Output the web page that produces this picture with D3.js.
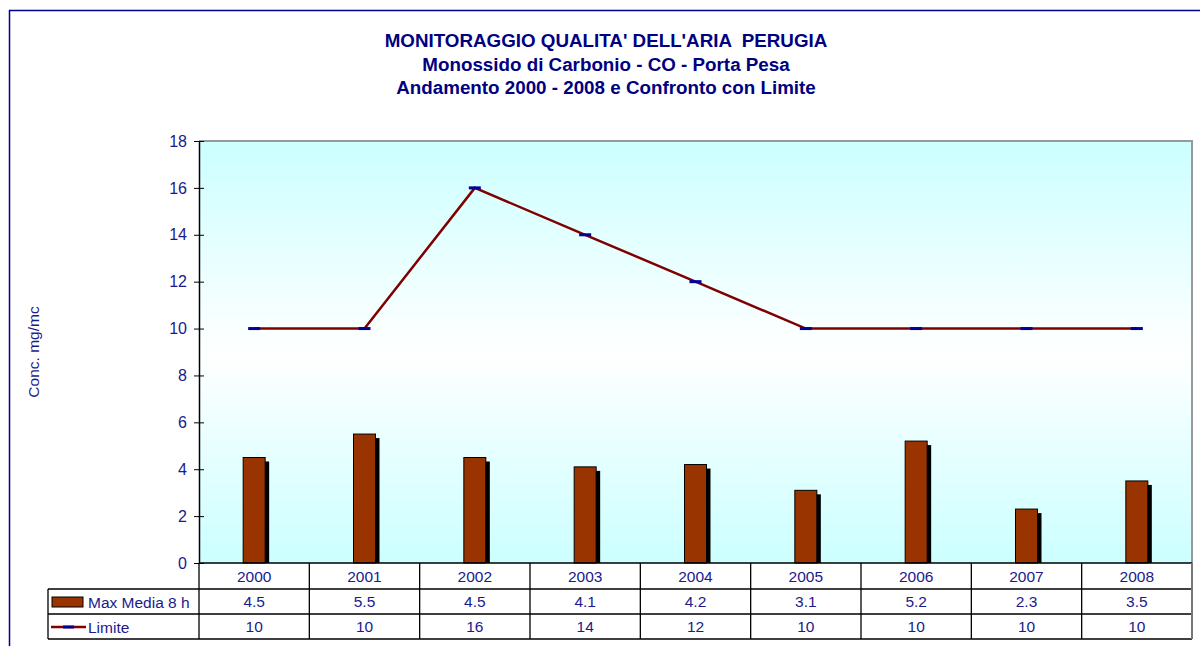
<!DOCTYPE html>
<html>
<head>
<meta charset="utf-8">
<script src="https://cdn.jsdelivr.net/npm/d3@7"></script>
<style>
  body { margin: 0; background: #fff; }
  svg { display: block; font-family: Arial, "Liberation Sans", sans-serif; }
</style>
</head>
<body>
<div id="canvas"></div>
<script>
const years = ["2000", "2001", "2002", "2003", "2004", "2005", "2006", "2007", "2008"];
const maxMedia = [4.5, 5.5, 4.5, 4.1, 4.2, 3.1, 5.2, 2.3, 3.5];
const limite = [10, 10, 16, 14, 12, 10, 10, 10, 10];
const yTicks = [0, 2, 4, 6, 8, 10, 12, 14, 16, 18];
const titleLines = [
  "MONITORAGGIO QUALITA' DELL'ARIA  PERUGIA",
  "Monossido di Carbonio - CO - Porta Pesa",
  "Andamento 2000 - 2008 e Confronto con Limite"
];

const width = 1200;
const height = 646;
const navy = "#1a1a8c";
const fontFam = "Arial, 'Liberation Sans', sans-serif";

const plotLeft = 199, plotRight = 1192, plotTop = 141, plotBottom = 563;
const rowH = [26, 25, 25];

const xScale = d3.scaleBand(years, [plotLeft, plotRight]);
const yScale = d3.scaleLinear([0, 18], [plotBottom, plotTop]);

const svg = d3
  .select("#canvas")
  .append("svg")
  .attr("width", width)
  .attr("height", height);

// outer chart frame
svg.append("path")
  .attr("d", `M9.5,${height} V10.5 H${width}`)
  .attr("fill", "none")
  .attr("stroke", "#00008b")
  .attr("stroke-width", 1.5);

// plot area gradient
const grad = svg.append("defs").append("linearGradient")
  .attr("id", "bg").attr("x1", 0).attr("y1", 0).attr("x2", 0).attr("y2", 1);
grad.append("stop").attr("offset", "0%").attr("stop-color", "#ccffff");
grad.append("stop").attr("offset", "50%").attr("stop-color", "#ffffff");
grad.append("stop").attr("offset", "100%").attr("stop-color", "#ccffff");

svg.append("rect")
  .attr("x", plotLeft).attr("y", plotTop)
  .attr("width", plotRight - plotLeft).attr("height", plotBottom - plotTop)
  .attr("fill", "url(#bg)");

svg.append("path")
  .attr("d", `M${plotLeft},${plotTop} H${plotRight} V${plotBottom}`)
  .attr("fill", "none")
  .attr("stroke", "#999")
  .attr("stroke-width", 2);

// title
svg.append("g")
  .selectAll("text")
  .data(titleLines)
  .enter()
  .append("text")
  .attr("x", 606)
  .attr("y", (d, i) => 47 + i * 23.5)
  .attr("text-anchor", "middle")
  .attr("font-size", 18.8)
  .attr("font-weight", "bold")
  .attr("fill", "#000080")
  .style("white-space", "pre")
  .text((d) => d);

// y axis label
svg.append("text")
  .attr("transform", "translate(39,352) rotate(-90)")
  .attr("text-anchor", "middle")
  .attr("font-size", 15.5)
  .attr("fill", navy)
  .text("Conc. mg/mc");

// bars with shadow
const bw = 22;
svg.append("g")
  .selectAll("rect")
  .data(maxMedia)
  .enter()
  .append("rect")
  .attr("x", (d, i) => xScale(years[i]) + xScale.bandwidth() / 2 - bw / 2 + 4)
  .attr("y", (d) => yScale(d) + 4)
  .attr("width", bw)
  .attr("height", (d) => plotBottom - yScale(d) - 4)
  .attr("fill", "#000");

svg.append("g")
  .selectAll("rect")
  .data(maxMedia)
  .enter()
  .append("rect")
  .attr("x", (d, i) => xScale(years[i]) + xScale.bandwidth() / 2 - bw / 2)
  .attr("y", (d) => yScale(d))
  .attr("width", bw)
  .attr("height", (d) => plotBottom - yScale(d))
  .attr("fill", "#993300")
  .attr("stroke", "#000")
  .attr("stroke-width", 1);

// limit line
const line = d3.line()
  .x((d, i) => xScale(years[i]) + xScale.bandwidth() / 2)
  .y((d) => yScale(d));

svg.append("path")
  .attr("d", line(limite))
  .attr("fill", "none")
  .attr("stroke", "#800000")
  .attr("stroke-width", 2.5);

svg.append("g")
  .selectAll("rect")
  .data(limite)
  .enter()
  .append("rect")
  .attr("x", (d, i) => xScale(years[i]) + xScale.bandwidth() / 2 - 6)
  .attr("y", (d) => yScale(d) - 1.5)
  .attr("width", 12)
  .attr("height", 3)
  .attr("fill", "#000099");

// y axis
const yAxis = d3.axisLeft(yScale).tickValues(yTicks).tickSize(5).tickSizeOuter(0).tickPadding(7);
svg.append("g")
  .attr("transform", `translate(${plotLeft},0)`)
  .call(yAxis)
  .call((g) => g.select(".domain").attr("stroke", "#000").attr("stroke-width", 1.5))
  .call((g) => g.selectAll(".tick line").clone().attr("x2", 5))
  .call((g) => g.selectAll(".tick text")
    .attr("font-size", 16)
    .attr("font-family", fontFam)
    .attr("fill", navy));

// data table
const t = svg.append("g");
const r1 = plotBottom + rowH[0];
const r2 = r1 + rowH[1];
const r3 = r2 + rowH[2];
const legendLeft = 48;

t.append("path")
  .attr("d", [
    `M${plotLeft},${plotBottom} H${plotRight}`,
    `M${legendLeft},${r1} H${plotRight}`,
    `M${legendLeft},${r2} H${plotRight}`,
    `M${legendLeft},${r3} H${plotRight}`,
    `M${legendLeft},${r1} V${r3}`,
    `M${plotLeft},${plotBottom} V${r3}`
  ].join(" "))
  .attr("fill", "none")
  .attr("stroke", "#000")
  .attr("stroke-width", 1.3);

t.append("g")
  .selectAll("line")
  .data(years)
  .enter()
  .append("line")
  .attr("x1", (d) => xScale(d) + xScale.bandwidth())
  .attr("x2", (d) => xScale(d) + xScale.bandwidth())
  .attr("y1", plotBottom)
  .attr("y2", r3)
  .attr("stroke", (d, i) => (i === years.length - 1 ? "#777" : "#000"))
  .attr("stroke-width", (d, i) => (i === years.length - 1 ? 2 : 1.3));

const rows = [
  { y: plotBottom, h: rowH[0], vals: years },
  { y: r1, h: rowH[1], vals: maxMedia },
  { y: r2, h: rowH[2], vals: limite }
];
rows.forEach((row) => {
  t.append("g")
    .selectAll("text")
    .data(row.vals)
    .enter()
    .append("text")
    .attr("x", (d, i) => xScale(years[i]) + xScale.bandwidth() / 2)
    .attr("y", row.y + row.h / 2 + 5.5)
    .attr("text-anchor", "middle")
    .attr("font-size", 15.5)
    .attr("fill", navy)
    .text((d) => d);
});

// legend inside table
t.append("rect")
  .attr("x", 52).attr("y", r1 + 8)
  .attr("width", 31).attr("height", 10)
  .attr("fill", "#993300").attr("stroke", "#000").attr("stroke-width", 1);
t.append("text")
  .attr("x", 88).attr("y", r1 + 18.5)
  .attr("font-size", 15.5).attr("fill", navy)
  .text("Max Media 8 h");

t.append("line")
  .attr("x1", 51).attr("x2", 86)
  .attr("y1", r2 + 13).attr("y2", r2 + 13)
  .attr("stroke", "#800000").attr("stroke-width", 2.5);
t.append("rect")
  .attr("x", 63).attr("y", r2 + 11.5)
  .attr("width", 11).attr("height", 3)
  .attr("fill", "#000099");
t.append("text")
  .attr("x", 88).attr("y", r2 + 18.5)
  .attr("font-size", 15.5).attr("fill", navy)
  .text("Limite");
</script>
</body>
</html>
